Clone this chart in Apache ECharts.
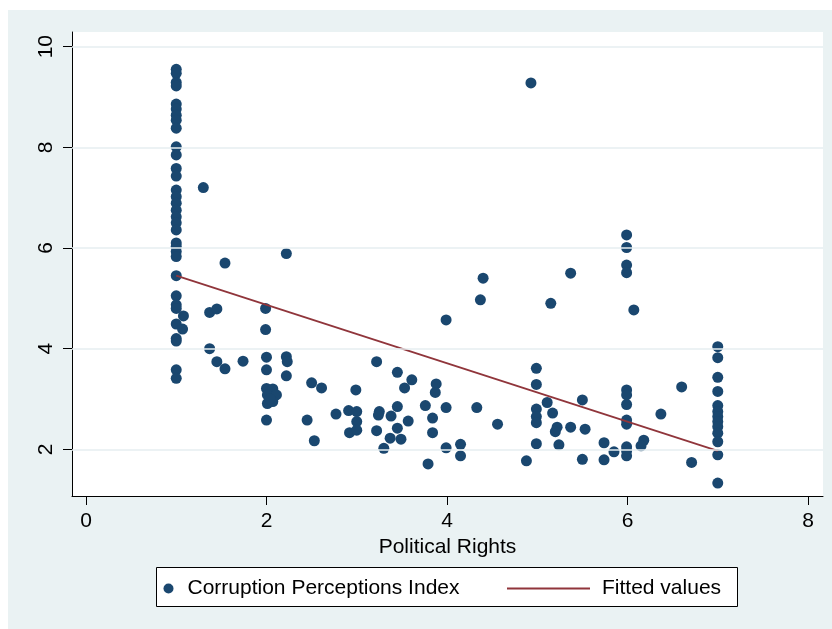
<!DOCTYPE html>
<html>
<head>
<meta charset="utf-8">
<script src="https://cdn.jsdelivr.net/npm/echarts@6/dist/echarts.min.js"></script>
<style>
html,body{margin:0;padding:0;background:#fff;}
#chart{width:832px;height:629px;}
</style>
</head>
<body>
<div id="chart"></div>
<script>
// Political Rights (x) vs Corruption Perceptions Index (y)
const cpiPoints = [
  [1,9.55],[1,9.47],[1,9.29],[1,9.22],
  [1,8.86],[1,8.76],[1,8.64],[1,8.54],[1,8.38],
  [1,8.01],[1,7.85],[1,7.58],[1,7.43],
  [1,7.15],[1,7.02],[1,6.89],[1,6.75],[1,6.62],[1,6.5],[1,6.36],
  [1,6.10],[1,6.03],[1,5.93],[1,5.83],[1,5.45],
  [1,5.05],[1,4.87],[1,4.80],[1,4.49],[1,4.20],[1,4.15],[1,3.58],[1,3.41],
  [1.08,4.65],[1.07,4.39],[1.30,7.20],[1.54,5.70],[1.37,4.72],[1.45,4.79],
  [1.37,4.0],[1.45,3.74],[1.54,3.6],[1.74,3.75],
  [2.22,5.89],[1.99,4.80],[1.99,4.38],[2.0,3.83],[2.0,3.58],[2.22,3.84],[2.23,3.74],
  [2.22,3.46],[2.5,3.32],[2.61,3.22],
  [2.0,3.21],[2.07,3.20],[2.01,3.08],[2.11,3.08],[2.01,2.91],[2.07,2.95],[2.04,3.0],[2.0,2.58],
  [2.45,2.58],[2.53,2.17],[2.77,2.70],
  [3.22,3.74],[3.45,3.53],[3.61,3.38],[3.53,3.22],[3.88,3.30],[3.87,3.13],[2.99,3.18],
  [2.91,2.77],[3.0,2.75],[3.0,2.55],[2.92,2.33],[3.0,2.38],[3.25,2.75],[3.24,2.68],
  [3.38,2.66],[3.45,2.85],[3.57,2.56],[3.22,2.37],[3.45,2.42],[3.37,2.22],[3.49,2.20],[3.30,2.02],
  [3.76,2.87],[3.84,2.62],[3.99,2.83],[3.84,2.33],[3.99,2.03],[4.15,2.10],[4.15,1.87],[3.79,1.71],[4.33,2.83],
  [4.40,5.40],[4.37,4.97],[3.99,4.57],[5.37,5.50],[5.15,4.90],[4.99,3.61],[4.99,3.29],
  [4.56,2.50],[4.88,1.77],[5.11,2.93],[4.99,2.80],[4.99,2.65],[4.99,2.53],[5.17,2.72],
  [5.22,2.44],[5.20,2.35],[5.37,2.44],[5.53,2.40],[5.50,2.98],[4.99,2.11],[5.24,2.09],
  [5.50,1.80],[5.74,2.13],[5.74,1.79],[5.85,1.95],[4.93,9.28],
  [5.99,6.26],[5.99,6.01],[5.99,5.66],[5.99,5.51],[6.07,4.77],[5.99,3.18],[5.99,3.08],
  [5.99,2.89],[5.99,2.58],[5.99,2.50],[5.99,2.05],[5.99,1.97],[5.99,1.87],
  [6.18,2.18],[6.15,2.07],[6.60,3.24],[6.37,2.70],[6.71,1.74],
  [7,4.04],[7,3.82],[7,3.43],[7,3.15],[7,2.87],[7,2.75],[7,2.65],[7,2.55],
  [7,2.45],[7,2.32],[7,2.15],[7,1.89],[7,1.33]
];
const fittedValues = [[1,5.45],[7,1.97]];
const xTicks = [0,2,4,6,8];
const yTicks = [2,4,6,8,10];
const xTitle = 'Political Rights';
const seriesNames = ['Corruption Perceptions Index','Fitted values'];

const FONT = "'Liberation Sans', Arial, sans-serif";
const chart = echarts.init(document.getElementById('chart'), null, {renderer:'canvas'});
chart.setOption({
  animation: false,
  textStyle: {fontFamily: FONT},
  graphic: [
    {type:'rect', z:-100, shape:{x:8,y:10,width:824,height:619}, style:{fill:'#eaf2f3'}, silent:true},
    {type:'rect', z:1, shape:{x:156.5,y:567.5,width:581,height:39}, style:{fill:'#fff', stroke:'#000', lineWidth:1}, silent:true}
  ],
  grid: {left:72, right:9, top:32, bottom:133, show:true, backgroundColor:'#fff', borderWidth:0},
  xAxis: {
    type:'value', min:-0.155, max:8.166,
    name: xTitle, nameLocation:'middle', nameGap:35,
    nameTextStyle:{fontSize:21, color:'#000', fontFamily:FONT},
    axisLine:{show:true, onZero:false, lineStyle:{color:'#000', width:1}},
    axisTick:{show:true, customValues:xTicks, length:9, lineStyle:{color:'#000'}},
    axisLabel:{customValues:xTicks, fontSize:21, color:'#000', margin:15, fontFamily:FONT},
    splitLine:{show:false}
  },
  yAxis: {
    type:'value', min:1.072, max:10.292,
    axisLine:{show:true, onZero:false, lineStyle:{color:'#000', width:1}},
    axisTick:{show:true, customValues:yTicks, length:9, lineStyle:{color:'#000'}},
    axisLabel:{customValues:yTicks, fontSize:21, color:'#000', margin:15, rotate:90, fontFamily:FONT},
    splitLine:{show:false}
  },
  legend: [
    {
      data:[{name:seriesNames[0], icon:'circle'}], left:163.5, top:578, padding:0,
      itemWidth:10, itemHeight:10,
      textStyle:{fontSize:21, color:'#000', fontFamily:FONT, padding:[0,0,0,9]}
    },
    {
      data:[{name:seriesNames[1], icon:'rect'}], left:507, top:578, padding:0,
      itemWidth:83, itemHeight:2,
      itemStyle:{color:'#90353b', borderWidth:0},
      textStyle:{fontSize:21, color:'#000', fontFamily:FONT, padding:[0,0,0,7]}
    }
  ],
  series: [
    {
      type:'scatter', name:'grid', data:[], z:1, silent:true,
      markLine:{
        silent:true, symbol:['none','none'], label:{show:false},
        lineStyle:{color:'#e6eef0', width:1.5, type:'solid'},
        data: yTicks.map(v => ({yAxis:v}))
      }
    },
    {
      type:'scatter', name:seriesNames[0], data:cpiPoints, z:3,
      symbol:'circle', symbolSize:11,
      itemStyle:{color:'#1a476f', opacity:1}
    },
    {
      type:'line', name:seriesNames[1], data:fittedValues, z:4,
      symbol:'none', showSymbol:false,
      lineStyle:{color:'#90353b', width:1.8},
      itemStyle:{color:'#90353b'}
    }
  ]
});
</script>
</body>
</html>
